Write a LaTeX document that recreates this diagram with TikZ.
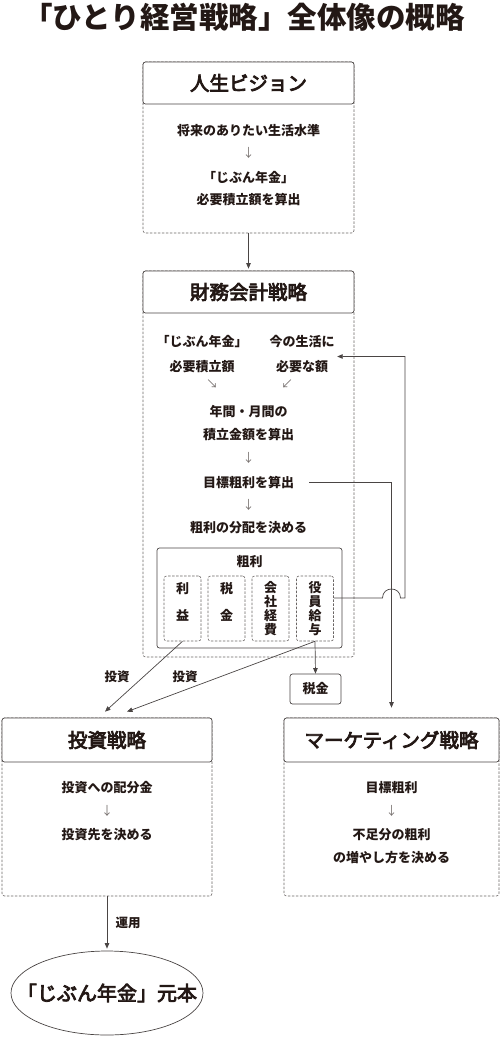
\documentclass[tikz,border=0pt]{standalone}
\usepackage{fontspec}
\setmainfont{Noto Sans CJK JP}
\newfontfamily\jph{Noto Sans CJK JP}[FakeBold=4]
\usetikzlibrary{arrows.meta,calc,shapes.geometric}
\definecolor{ink}{HTML}{231815}
\definecolor{ln}{HTML}{4A4544}
\definecolor{dsh}{HTML}{6A6564}
\definecolor{arrc}{HTML}{77716F}
\begin{document}
\begin{tikzpicture}[x=1pt,y=-1pt,
  txt/.style={font=\bfseries\fontsize{13}{15}\selectfont, text=ink, inner sep=0pt},
  lbl/.style={font=\bfseries\fontsize{12.5}{14}\selectfont, text=ink, inner sep=0pt},
  arrsym/.style={font=\fontsize{12}{14}\selectfont, text=arrc, inner sep=0pt},
  head/.style={draw=ln, fill=white, rounded corners=2.5pt, line width=0.7pt, font=\jph\fontsize{19.5}{22}\selectfont, text=ink, inner sep=0pt},
  body/.style={draw=dsh, dash pattern=on 2.5pt off 1.5pt, rounded corners=2.5pt, line width=0.6pt, inner sep=0pt},
  solidbox/.style={draw=ln, rounded corners=2.5pt, line width=0.7pt, inner sep=0pt},
  conn/.style={draw=ln, line width=0.7pt},
  tip/.style={-{Triangle[length=5.5pt,width=4.5pt]}},
]
\useasboundingbox (0,0) rectangle (500,1037);

% title
\node[font=\bfseries\fontsize{29.5}{32}\selectfont, text=ink, inner sep=0pt] (title) at (244,17) {「ひとり経営戦略」全体像の概略};

% box 1
\node[body, minimum width=211pt, minimum height=171pt] (b1body) at (248.5,147.5) {};
\node[head, minimum width=211pt, minimum height=42pt] (b1head) at (248.5,83) {人生ビジョン};
\node[txt] (t11) at (248.5,131) {将来のありたい生活水準};
\node[arrsym] (a11) at (248.5,153) {↓};
\node[txt] (t12) at (248.5,178) {「じぶん年金」};
\node[txt] (t13) at (248.5,200) {必要積立額を算出};

% box 2
\node[body, minimum width=211pt, minimum height=386pt] (b2body) at (248.5,464) {};
\node[head, minimum width=211pt, minimum height=42pt] (b2head) at (248.5,292) {財務会計戦略};
\node[txt] (t21) at (202,342) {「じぶん年金」};
\node[txt] (t22) at (202,367) {必要積立額};
\node[arrsym] (a21) at (212,384) {↘};
\node[txt] (t23) at (302,342) {今の生活に};
\node[txt] (t24) at (302,367) {必要な額};
\node[arrsym] (a22) at (287,384) {↙};
\node[txt] (t25) at (248.5,412) {年間・月間の};
\node[txt] (t26) at (248.5,435) {積立金額を算出};
\node[arrsym] (a23) at (248.5,458) {↓};
\node[txt] (t27) at (248.5,482) {目標粗利を算出};
\node[arrsym] (a24) at (248.5,505) {↓};
\node[txt] (t28) at (248.5,528) {粗利の分配を決める};

% inner box
\node[solidbox, minimum width=185pt, minimum height=100pt] (arari) at (249.5,598) {};
\node[txt] (arariT) at (249.5,562) {粗利};
\foreach \n/\x in {s1/182.5, s2/226.5, s3/270.5, s4/315}{
  \node[body, minimum width=37pt, minimum height=65pt] (\n) at (\x,608.5) {};
}
\node[txt, align=center] (s1T) at (182.5,601.5) {利\\[12pt]益};
\node[txt, align=center] (s2T) at (226.5,601.5) {税\\[12pt]金};
\node[txt, align=center, font=\bfseries\fontsize{13}{14}\selectfont] (s3T) at (270.5,609) {会\\社\\経\\費};
\node[txt, align=center, font=\bfseries\fontsize{13}{14}\selectfont] (s4T) at (315,609) {役\\員\\給\\与};

% tax box
\node[solidbox, minimum width=51pt, minimum height=30pt, font=\bfseries\fontsize{13}{15}\selectfont, text=ink] (zei) at (315.5,689) {税金};

% investment box
\node[body, minimum width=210pt, minimum height=178pt] (invbody) at (107,807) {};
\node[head, minimum width=210pt, minimum height=44pt] (invhead) at (107,740) {投資戦略};
\node[txt] (i1) at (107,788) {投資への配分金};
\node[arrsym] (ia) at (107,811) {↓};
\node[txt] (i2) at (107,835) {投資先を決める};

% marketing box
\node[body, minimum width=215pt, minimum height=178pt] (mktbody) at (391.5,807) {};
\node[head, minimum width=215pt, minimum height=44pt] (mkthead) at (391.5,740) {マーケティング戦略};
\node[txt] (m1) at (391.5,788) {目標粗利};
\node[arrsym] (ma) at (391.5,811) {↓};
\node[txt] (m2) at (391.5,835) {不足分の粗利};
\node[txt] (m3) at (391.5,858) {の増やし方を決める};

% ellipse
\node[ellipse, draw=ln, line width=0.7pt, minimum width=192pt, minimum height=84pt, inner sep=0pt] (gan) at (107,993) {};
\node[font=\jph\fontsize{20}{22}\selectfont, text=ink, inner sep=0pt] (ganT) at (gan.center) {「じぶん年金」元本};

% labels
\node[lbl] (L1) at (117,677) {投資};
\node[lbl] (L2) at (185,677) {投資};
\node[lbl] (L3) at (128,923) {運用};

% connectors
\draw[conn,tip] (b1body.south) -- ($(b2head.north)+(0,-2)$);
\draw[conn,tip] ($(t27.east)+(15,0)$) -| ($(mkthead.north)+(0,-10)$);
\coordinate (fbtip) at ($(t23.east)+(2.5,14.5)$);
\coordinate (fb0) at ($(s4.east)+(0,-10.5)$);
\draw[conn,tip] (fb0) -- ($(fb0 -| mkthead.north)+(-9,0)$)
  .. controls +(0,-12) and +(0,-12) .. ($(fb0 -| mkthead.north)+(9,0)$)
  -- ($(fb0 -| mkthead.north)+(13.5,0)$) |- (fbtip);
\draw[conn,tip] (s1.south) -- ($(invhead.north)+(-2,-6)$);
\draw[conn,tip] (s4.south) -- ($(invhead.north)+(20,-6)$);
\draw[conn,tip] (s4.south) -- (zei.north);
\draw[conn,tip] (invbody.south) -- ($(gan.north)+(0,-2)$);
\end{tikzpicture}
\end{document}
